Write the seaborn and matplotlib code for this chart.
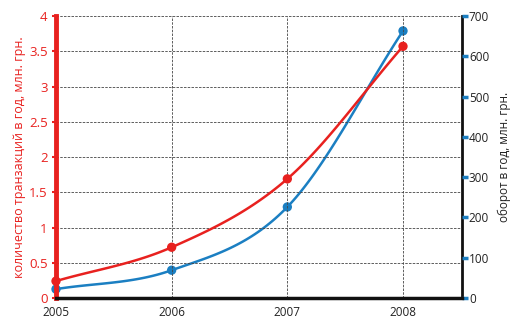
import numpy as np
import pandas as pd
import matplotlib
matplotlib.use("Agg")
import matplotlib.pyplot as plt
import seaborn as sns

years = [2005, 2006, 2007, 2008]
transactions = [0.24, 0.72, 1.69, 3.57]   # млн
turnover = [22, 69, 226, 663]             # млн грн
left_ticks = [0, 0.5, 1, 1.5, 2, 2.5, 3, 3.5, 4]
left_labels = ["0", "0.5", "1", "1.5", "2", "2.5", "3", "3.5", "4"]
right_ticks = [0, 100, 200, 300, 400, 500, 600, 700]
left_title = "количество транзакций в год, млн. грн."
right_title = "оборот в год, млн. грн."

RED = "#e8211f"
BLUE = "#1b7fc2"


def smooth(x, y, n=40):
    x = np.asarray(x, float)
    y = np.asarray(y, float)
    px = np.concatenate([[2 * x[0] - x[1]], x, [2 * x[-1] - x[-2]]])
    py = np.concatenate([[2 * y[0] - y[1]], y, [2 * y[-1] - y[-2]]])
    xs, ys = [], []
    for i in range(1, len(px) - 2):
        t = np.linspace(0, 1, n)
        for arr, out in ((px, xs), (py, ys)):
            p0, p1, p2, p3 = arr[i - 1], arr[i], arr[i + 1], arr[i + 2]
            out.extend(0.5 * ((2 * p1) + (-p0 + p2) * t
                              + (2 * p0 - 5 * p1 + 4 * p2 - p3) * t ** 2
                              + (-p0 + 3 * p1 - 3 * p2 + p3) * t ** 3))
    return np.array(xs), np.array(ys)


sns.set_style("white")
plt.rcParams["font.family"] = ["Open Sans", "DejaVu Sans"]

fig = plt.figure(figsize=(5.17, 3.32), dpi=100)
ax = fig.add_axes([0.1083, 0.1024, 0.7853, 0.8494])
ax2 = ax.twinx()

df = pd.DataFrame({"year": years, "tr": transactions, "to": turnover})
sx, sy = smooth(years, transactions)
bx, by = smooth(years, turnover)

sns.lineplot(x=bx, y=by, ax=ax2, color=BLUE, lw=1.8, sort=False, zorder=3)
sns.scatterplot(data=df, x="year", y="to", ax=ax2, color=BLUE, s=45,
                edgecolor="none", zorder=4, clip_on=False)
sns.lineplot(x=sx, y=sy, ax=ax, color=RED, lw=1.8, sort=False, zorder=3)
sns.scatterplot(data=df, x="year", y="tr", ax=ax, color=RED, s=45,
                edgecolor="none", zorder=4, clip_on=False)

ax.set_zorder(ax2.get_zorder() + 1)
ax.patch.set_visible(False)

ax.set_xlim(2005, 2008.51)
ax.set_ylim(0, 4)
ax2.set_ylim(0, 700)

# grid
for v in left_ticks[1:]:
    ax.axhline(v, color="#444444", lw=0.6, ls=(0, (3, 1.5)), zorder=1)
for yr in years[1:]:
    ax.axvline(yr, color="#444444", lw=0.6, ls=(0, (3, 1.5)), zorder=1)

ax.set_xticks(years)
ax.set_xticklabels([str(y) for y in years], fontsize=8.5, color="#222222")
ax.set_yticks(left_ticks)
ax.set_yticklabels(left_labels, fontsize=9.5, color=RED)
ax2.set_yticks(right_ticks)
ax2.set_yticklabels([str(v) for v in right_ticks], fontsize=8.5, color="#222222")

ax.tick_params(axis="x", length=0, pad=6)
ax.tick_params(axis="y", length=3, width=1.5, color=RED, pad=3)
ax2.tick_params(axis="y", length=4, width=2.5, color=BLUE, pad=1)

ax.set_xlabel("")
ax.set_ylabel(left_title, color=RED, fontsize=9, labelpad=2)
ax2.set_ylabel(right_title, color="#222222", fontsize=8.5, labelpad=6)

for a in (ax, ax2):
    for s in a.spines.values():
        s.set_visible(False)
ax.spines["left"].set_visible(True)
ax.spines["left"].set_color(RED)
ax.spines["left"].set_linewidth(3.5)
ax.spines["bottom"].set_visible(True)
ax.spines["bottom"].set_color("#111111")
ax.spines["bottom"].set_linewidth(2.5)
ax2.spines["right"].set_visible(True)
ax2.spines["right"].set_color("#111111")
ax2.spines["right"].set_linewidth(2)
ax2.spines["right"].set_zorder(0.5)

fig.savefig("out.png", dpi=100)
